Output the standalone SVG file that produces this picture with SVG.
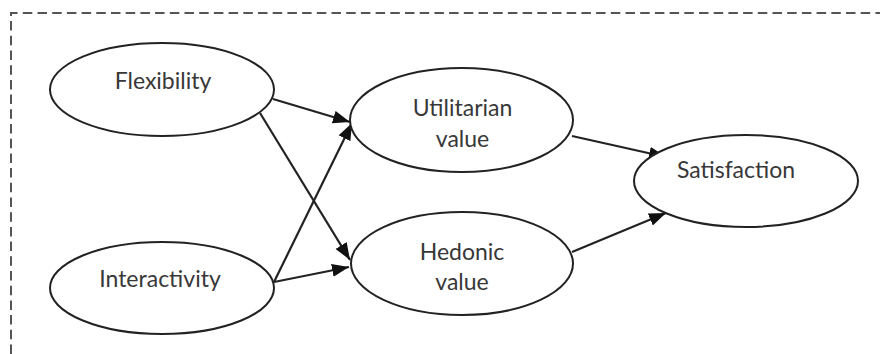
<svg xmlns="http://www.w3.org/2000/svg" width="880" height="354" viewBox="0 0 880 354">
<style>
.node ellipse{fill:#fff;stroke:#222;stroke-width:2}
.node text{font-family:Lato,"Open Sans",sans-serif;font-size:23px;fill:#383838;text-anchor:middle}
.edge{stroke:#222;stroke-width:2.2;fill:none;marker-end:url(#ah)}
.frame{stroke:#555;stroke-width:2;fill:none;stroke-dasharray:9.5 5.2}
</style>
<defs>
<marker id="ah" markerUnits="userSpaceOnUse" markerWidth="18" markerHeight="14" viewBox="0 0 18 14" refX="17" refY="7" orient="auto">
<path d="M0,0.5 L17,7 L0,13.5 Z" fill="#111"/>
</marker>
</defs>
<rect width="880" height="354" fill="#fff"/>
<path class="frame" d="M11,354 V13 H880"/>
<g id="connectors">
<line class="edge" x1="273" y1="99" x2="350" y2="122"/>
<line class="edge" x1="260" y1="113" x2="350" y2="260"/>
<line class="edge" x1="274" y1="282" x2="352" y2="123"/>
<line class="edge" x1="274" y1="282" x2="349" y2="267"/>
<line class="edge" x1="572" y1="136" x2="666" y2="157"/>
<line class="edge" x1="572" y1="252" x2="666" y2="213"/>
</g>
<g id="flexibility" class="node">
<ellipse cx="162" cy="89.5" rx="112" ry="46.5"/>
<text x="163" y="89">Flexibility</text>
</g>
<g id="interactivity" class="node">
<ellipse cx="162" cy="288" rx="112" ry="46"/>
<text x="160" y="287">Interactivity</text>
</g>
<g id="utilitarian" class="node">
<ellipse cx="461.5" cy="120" rx="111.5" ry="52"/>
<text x="462.5" y="116">Utilitarian</text>
<text x="462.5" y="147">value</text>
</g>
<g id="hedonic" class="node">
<ellipse cx="462" cy="263.5" rx="111" ry="51.5"/>
<text x="462" y="260">Hedonic</text>
<text x="462" y="290">value</text>
</g>
<g id="satisfaction" class="node">
<ellipse cx="746" cy="181" rx="112" ry="46"/>
<text x="736" y="178">Satisfaction</text>
</g>
</svg>
